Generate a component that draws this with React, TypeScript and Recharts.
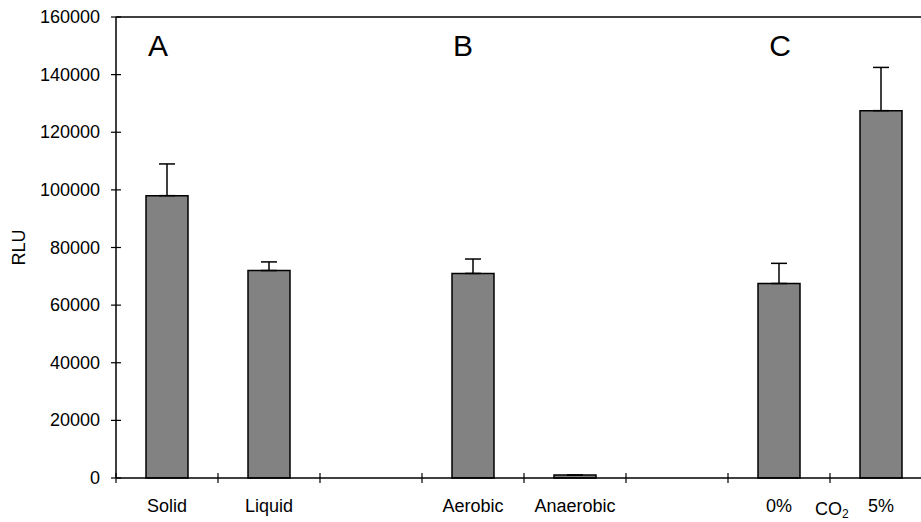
import React from 'react';
import { Bar, BarChart, ErrorBar, ReferenceDot, ReferenceLine, XAxis, YAxis } from 'recharts';

// 8 slots on the x axis, two of them empty (spacers between groups A, B and C)
const SLOT_LABELS = ['Solid', 'Liquid', '', 'Aerobic', 'Anaerobic', '', '0%', '5%'];
const RLU_VALUES = [98000, 72000, null, 71000, 1000, null, 67500, 127500];
const RLU_ERRORS = [11000, 3000, null, 5000, 0, null, 7000, 15000];
const Y_TICKS = [0, 20000, 40000, 60000, 80000, 100000, 120000, 140000, 160000];
const GROUP_LABELS = [
  { text: 'A', slot: 0, dx: -9 },
  { text: 'B', slot: 3, dx: -10 },
  { text: 'C', slot: 6, dx: 1 },
];

const FONT = '"Liberation Sans", Arial, sans-serif';

const data = SLOT_LABELS.map((label, i) => ({
  pos: i + 0.5,
  label,
  rlu: RLU_VALUES[i],
  err: RLU_ERRORS[i] == null ? null : [0, RLU_ERRORS[i]],
})).filter((d) => d.rlu != null);

const xTicks: number[] = [];
for (let i = 0; i <= SLOT_LABELS.length; i++) {
  xTicks.push(i);
  if (i < SLOT_LABELS.length) xTicks.push(i + 0.5);
}

function XTick(props: any) {
  const { x, y, payload } = props;
  const v = payload.value as number;
  if (Number.isInteger(v)) {
    return (
      <g>
        <line x1={x} x2={x} y1={y - 5} y2={y + 5} stroke="#000" strokeWidth={1.2} />
        {v === 7 && (
          <text x={x - 15} y={y + 37} fontSize={18} fontFamily={FONT} fill="#000">
            CO<tspan fontSize={12} dy={3}>2</tspan>
          </text>
        )}
      </g>
    );
  }
  const label = SLOT_LABELS[Math.floor(v)];
  return (
    <text x={x} y={y + 34} textAnchor="middle" fontSize={18} fontFamily={FONT} fill="#000">
      {label}
    </text>
  );
}

function YTick(props: any) {
  const { x, y, payload } = props;
  return (
    <g>
      <line x1={x - 5} x2={x + 5} y1={y} y2={y} stroke="#000" strokeWidth={1.2} />
      <text x={x - 16} y={y} dy={6} textAnchor="end" fontSize={18} fontFamily={FONT} fill="#000">
        {payload.value}
      </text>
    </g>
  );
}

export default function App() {
  return (
    <div style={{ position: 'absolute', left: 0, top: 0, width: 921, height: 522, overflow: 'hidden', background: '#fff' }}>
      <BarChart
        width={940}
        height={522}
        data={data}
        margin={{ top: 17, right: 8, bottom: 4, left: 36 }}
      >
        <XAxis
          type="number"
          dataKey="pos"
          domain={[0, SLOT_LABELS.length]}
          ticks={xTicks}
          interval={0}
          tick={<XTick />}
          tickLine={false}
          tickSize={0}
          tickMargin={0}
          height={40}
          axisLine={{ stroke: '#000', strokeWidth: 1.5 }}
        />
        <YAxis
          domain={[0, 160000]}
          ticks={Y_TICKS}
          interval={0}
          tick={<YTick />}
          tickLine={false}
          tickSize={0}
          tickMargin={0}
          width={80}
          axisLine={{ stroke: '#000', strokeWidth: 1.5 }}
          label={{
            value: 'RLU',
            angle: -90,
            position: 'insideLeft',
            offset: -17,
            style: { fontSize: 18, fontFamily: FONT, fill: '#000', textAnchor: 'middle' },
          }}
        />
        <ReferenceLine y={160000} stroke="#000" strokeWidth={1.5} />
        {GROUP_LABELS.map((g) => (
          <ReferenceDot
            key={g.text}
            x={g.slot + 0.5}
            y={150000}
            r={0}
            fill="none"
            stroke="none"
            label={{
              value: g.text,
              position: 'center',
              dx: g.dx,
              style: { fontSize: 30, fontFamily: FONT, fill: '#000' },
            }}
          />
        ))}
        <Bar dataKey="rlu" barSize={42} fill="#828282" stroke="#000" strokeWidth={1.5} isAnimationActive={false}>
          <ErrorBar dataKey="err" direction="y" width={8} stroke="#000" strokeWidth={1.5} />
        </Bar>
      </BarChart>
    </div>
  );
}
